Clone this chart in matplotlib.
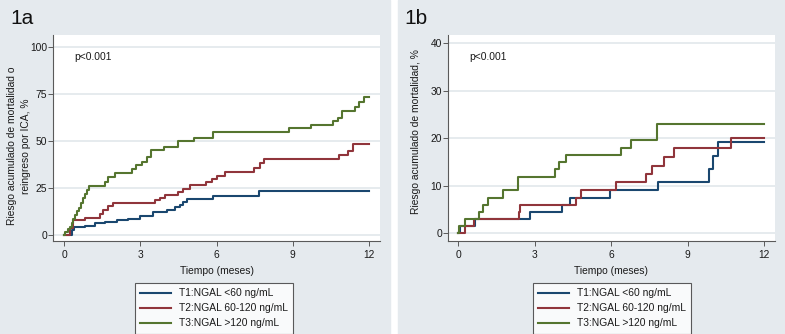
import matplotlib
matplotlib.use("Agg")
import matplotlib.pyplot as plt
from matplotlib.patches import Rectangle
from matplotlib.lines import Line2D

plt.rcParams['font.family'] = ['Liberation Sans', 'DejaVu Sans']

# ---------------- data (months, cumulative risk %) ----------------
labels = ["T1:NGAL <60 ng/mL", "T2:NGAL 60-120 ng/mL", "T3:NGAL >120 ng/mL"]
colors = ["#1a476f", "#90353b", "#55752f"]

# Panel 1a: mortality or readmission for AHF
a_t1_t = [0, 0.30, 0.40, 0.83, 1.22, 1.60, 2.07, 2.53, 3.00, 3.50, 4.04, 4.37, 4.57, 4.70, 4.83, 5.88, 7.69, 12]
a_t1_y = [0, 2.7, 4.0, 5.0, 6.2, 7.0, 7.8, 8.7, 10.3, 12.0, 13.3, 15.0, 16.0, 17.7, 19.0, 20.9, 23.5, 23.5]

a_t2_t = [0, 0.24, 0.35, 0.83, 1.42, 1.55, 1.75, 1.94, 3.58, 3.78, 3.98, 4.50, 4.70, 4.96, 5.59, 5.81, 6.01, 6.34, 7.48, 7.72, 7.85, 10.83, 11.16, 11.36, 12]
a_t2_y = [0, 3.5, 8.0, 9.2, 11.0, 13.3, 15.6, 17.2, 18.6, 19.6, 21.3, 22.7, 24.5, 26.8, 28.4, 29.8, 31.6, 33.3, 35.5, 38.1, 40.6, 42.7, 44.9, 48.4, 48.4]

a_t3_t = [0, 0.05, 0.15, 0.22, 0.30, 0.37, 0.45, 0.52, 0.60, 0.67, 0.75, 0.82, 0.90, 0.97, 1.61, 1.74, 2.00, 2.66, 2.85, 3.05, 3.25, 3.43, 3.95, 4.50, 5.10, 5.88, 8.85, 9.70, 10.60, 10.80, 10.95, 11.45, 11.60, 11.80, 12]
a_t3_y = [0, 1.5, 3.0, 4.5, 6.5, 8.5, 10.5, 12.5, 14.5, 17.0, 19.5, 22.0, 24.0, 25.8, 28.4, 31.0, 33.2, 35.0, 37.2, 39.0, 41.7, 45.2, 47.0, 50.0, 51.6, 55.0, 56.7, 58.7, 60.8, 62.2, 66.0, 68.3, 70.6, 73.2, 73.2]

# Panel 1b: mortality
b_t1_t = [0, 0.05, 0.65, 2.80, 4.08, 4.37, 5.94, 7.82, 9.84, 9.99, 10.19, 12]
b_t1_y = [0, 1.5, 2.9, 4.4, 5.9, 7.4, 9.0, 10.7, 13.4, 16.2, 19.2, 19.2]

b_t2_t = [0, 0.25, 0.63, 2.36, 2.43, 4.60, 4.80, 6.20, 7.38, 7.60, 8.06, 8.45, 10.71, 12]
b_t2_y = [0, 1.5, 2.9, 4.4, 5.9, 7.4, 9.0, 10.7, 12.4, 14.2, 16.1, 18.0, 20.1, 20.1]

b_t3_t = [0, 0.03, 0.26, 0.82, 0.98, 1.15, 1.73, 2.33, 3.80, 3.93, 4.21, 6.39, 6.78, 7.81, 12]
b_t3_y = [0, 1.5, 2.9, 4.4, 5.9, 7.4, 9.0, 11.9, 13.4, 14.9, 16.4, 18.0, 19.6, 22.9, 22.9]

a_yticks = [0, 25, 50, 75, 100]
b_yticks = [0, 10, 20, 30, 40]
xticks = [0, 3, 6, 9, 12]

# ---------------- figure ----------------
W, H = 785, 334
fig = plt.figure(figsize=(W / 100, H / 100), dpi=100, facecolor="white")
bg = "#e5eaee"
fig.patches.append(Rectangle((0, 0), 390 / W, 1, transform=fig.transFigure, color=bg, zorder=-10))
fig.patches.append(Rectangle((398 / W, 0), (W - 398) / W, 1, transform=fig.transFigure, color=bg, zorder=-10))

FS = 7.4


def px_axes(l, r, t, b):
    return [l / W, 1 - b / H, (r - l) / W, (b - t) / H]


def setup(ax, yticks, ylim, xlim, ylabel, lcoords, lspace):
    ax.set_facecolor("white")
    ax.set_xlim(*xlim)
    ax.set_ylim(*ylim)
    for s in ["top", "right"]:
        ax.spines[s].set_visible(False)
    for s in ["left", "bottom"]:
        ax.spines[s].set_color("#5a5a5a")
        ax.spines[s].set_linewidth(0.8)
    ax.set_yticks(yticks)
    ax.set_xticks(xticks)
    ax.tick_params(axis="both", direction="out", length=3.5, width=0.7, color="#5a5a5a",
                   labelsize=FS, labelcolor="#1a1a1a")
    ax.tick_params(axis="x", pad=3)
    ax.tick_params(axis="y", pad=0.8)
    ax.yaxis.grid(True, color="#dfe6ea", linewidth=1.1)
    ax.set_axisbelow(True)
    ax.set_xlabel("Tiempo (meses)", fontsize=FS, color="#1a1a1a", labelpad=4)
    ax.set_ylabel(ylabel, fontsize=FS, color="#1a1a1a", linespacing=lspace)
    ax.yaxis.set_label_coords(*lcoords)
    ax.text(0.064, 0.893, "p<0.001", transform=ax.transAxes, fontsize=FS, color="#1a1a1a",
            ha="left", va="center")


# Panel 1a
ax1 = fig.add_axes(px_axes(53, 380, 35, 241))
setup(ax1, a_yticks, (-3.2, 106.4), (-0.433, 12.433),
      "Riesgo acumulado de mortalidad o\nreingreso por ICA, %", (-0.068, 0.46), 1.45)
for t, y, c, lab in [(a_t1_t, a_t1_y, colors[0], labels[0]),
                     (a_t2_t, a_t2_y, colors[1], labels[1]),
                     (a_t3_t, a_t3_y, colors[2], labels[2])]:
    ax1.step(t, y, where="post", color=c, linewidth=1.5, label=lab)

# Panel 1b
ax2 = fig.add_axes(px_axes(448, 775, 35, 241))
setup(ax2, b_yticks, (-1.68, 41.7), (-0.41, 12.43),
      "Riesgo acumulado de mortalidad, %", (-0.084, 0.53), 1.2)
for t, y, c, lab in [(b_t1_t, b_t1_y, colors[0], labels[0]),
                     (b_t2_t, b_t2_y, colors[1], labels[1]),
                     (b_t3_t, b_t3_y, colors[2], labels[2])]:
    ax2.step(t, y, where="post", color=c, linewidth=1.5, label=lab)

fig.text(10 / W, 1 - 19 / H, "1a", fontsize=15, color="#111111", va="center", ha="left")
fig.text(404 / W, 1 - 19 / H, "1b", fontsize=15, color="#111111", va="center", ha="left")

for ax, lx in [(ax1, 135), (ax2, 533)]:
    handles = [Line2D([0], [0], color=c, linewidth=1.5) for c in colors]
    leg = ax.legend(handles, labels, loc="upper left",
                    bbox_to_anchor=(lx / W, 1 - 283 / H), bbox_transform=fig.transFigure,
                    fontsize=FS, frameon=True, fancybox=False, handlelength=3.0,
                    handletextpad=0.8, labelspacing=0.5, borderpad=0.5, borderaxespad=0)
    leg.get_frame().set_edgecolor("#333333")
    leg.get_frame().set_linewidth(0.8)
    leg.get_frame().set_facecolor("white")
    for txt in leg.get_texts():
        txt.set_color("#1a1a1a")

fig.savefig("out.png", dpi=100, facecolor=fig.get_facecolor())
